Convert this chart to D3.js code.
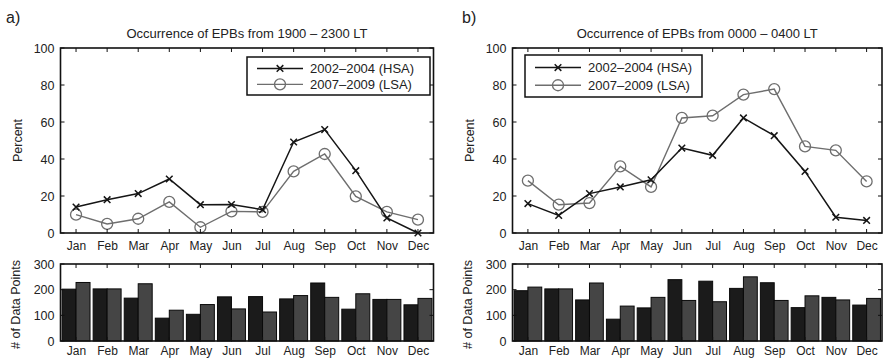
<!DOCTYPE html>
<html><head><meta charset="utf-8">
<script src="https://cdn.jsdelivr.net/npm/d3@7"></script>
<style>
html,body{margin:0;padding:0;background:#fff;}
svg{display:block;font-family:"Liberation Sans",Arial,Helvetica,sans-serif;}
</style></head>
<body><svg id="chart" width="890" height="360"></svg>
<script>
const months = ["Jan","Feb","Mar","Apr","May","Jun","Jul","Aug","Sep","Oct","Nov","Dec"];
const seriesNames = ["2002\u20132004 (HSA)","2007\u20132009 (LSA)"];
const titles = ["Occurrence of EPBs from 1900 \u2013 2300 LT","Occurrence of EPBs from 0000 \u2013 0400 LT"];
const panelLabels = ["a)","b)"];
const percentTicks = [0,20,40,60,80,100];
const countTicks = [0,100,200,300];

// Panel a: 1900-2300 LT
const hsaEvening = [14,18,21.3,29.2,15.3,15.4,12.6,49.2,55.9,33.7,8.1,0];
const lsaEvening = [9.9,4.9,7.7,16.8,3.1,11.7,11.4,33.3,42.7,19.8,11.4,7.2];
const hsaEveningCounts = [202,203,167,89,104,172,173,164,226,124,162,141];
const lsaEveningCounts = [228,203,223,120,142,125,113,177,170,184,162,166];

// Panel b: 0000-0400 LT
const hsaMorning = [15.9,9.5,21.3,24.9,28.8,45.9,42,62.2,52.6,33.3,8.5,6.8];
const lsaMorning = [28.3,15.3,16.2,36,24.9,62.2,63.4,74.8,77.8,46.8,44.7,27.9];
const hsaMorningCounts = [196,203,160,85,129,239,233,205,227,130,170,140];
const lsaMorningCounts = [210,203,226,136,170,158,153,250,158,176,160,166];

const panels = [
  {label:panelLabels[0], title:titles[0], hsa:hsaEvening, lsa:lsaEvening, hc:hsaEveningCounts, lc:lsaEveningCounts,
   x0:60.5, x1:433.5, labelX:6, legend:{x:247,y:57,w:183,h:38}},
  {label:panelLabels[1], title:titles[1], hsa:hsaMorning, lsa:lsaMorning, hc:hsaMorningCounts, lc:lsaMorningCounts,
   x0:512.5, x1:882, labelX:462, legend:{x:525,y:55,w:177,h:42}}
];

const svg = d3.select("#chart");
const textCol = "#222";
const topY0 = 233, topY1 = 48, botY0 = 341, botY1 = 264;
const darkLine = "#151515", grayLine = "#6e6e6e";

function markerX(g, x, y){
  const s = 3.3;
  g.append("path").attr("d",`M${x-s},${y-s}L${x+s},${y+s}M${x-s},${y+s}L${x+s},${y-s}`)
    .attr("stroke",darkLine).attr("stroke-width",1.5).attr("fill","none");
}
function markerO(g, x, y){
  g.append("circle").attr("cx",x).attr("cy",y).attr("r",5.5)
    .attr("fill","none").attr("stroke",grayLine).attr("stroke-width",1.3);
}

function drawBox(g, x, yTop, yBot, yScale, ticks){
  const x0 = x.range()[0], x1 = x.range()[1];
  const tk = 4;
  months.forEach((m,i)=>{
    const px = x(i+1);
    g.append("line").attr("x1",px).attr("x2",px).attr("y1",yBot).attr("y2",yBot-tk).attr("stroke","#111").attr("stroke-width",1);
    g.append("line").attr("x1",px).attr("x2",px).attr("y1",yTop).attr("y2",yTop+tk).attr("stroke","#111").attr("stroke-width",1);
  });
  ticks.forEach(t=>{
    const py = yScale(t);
    g.append("line").attr("x1",x0).attr("x2",x0+tk).attr("y1",py).attr("y2",py).attr("stroke","#111").attr("stroke-width",1);
    g.append("line").attr("x1",x1).attr("x2",x1-tk).attr("y1",py).attr("y2",py).attr("stroke","#111").attr("stroke-width",1);
  });
  g.append("g").attr("transform",`translate(${x0},0)`)
    .call(d3.axisLeft(yScale).tickValues(ticks).tickSize(0).tickPadding(6))
    .call(a=>{a.select(".domain").remove(); a.selectAll("text").attr("font-size",12.5).attr("fill",textCol).attr("font-family","Liberation Sans, Arial, sans-serif");});
  g.append("rect").attr("x",x0).attr("y",yTop).attr("width",x1-x0).attr("height",yBot-yTop)
    .attr("fill","none").attr("stroke","#111").attr("stroke-width",1.6);
}

panels.forEach(p=>{
  const g = svg.append("g");
  const x = d3.scaleLinear().domain([0.5,12.5]).range([p.x0,p.x1]);
  const y = d3.scaleLinear().domain([0,100]).range([topY0,topY1]);
  const yc = d3.scaleLinear().domain([0,300]).range([botY0,botY1]);

  g.append("text").attr("x",p.labelX).attr("y",23).attr("font-size",16).attr("fill",textCol).text(p.label);
  g.append("text").attr("x",(p.x0+p.x1)/2).attr("y",38).attr("text-anchor","middle").attr("font-size",13).attr("fill",textCol).text(p.title);

  const line = d3.line().x((d,i)=>x(i+1)).y(d=>y(d));
  g.append("path").datum(p.lsa).attr("d",line).attr("fill","none").attr("stroke",grayLine).attr("stroke-width",1.4);
  p.lsa.forEach((v,i)=>markerO(g,x(i+1),y(v)));
  g.append("path").datum(p.hsa).attr("d",line).attr("fill","none").attr("stroke",darkLine).attr("stroke-width",1.5);
  p.hsa.forEach((v,i)=>markerX(g,x(i+1),y(v)));

  drawBox(g, x, topY1, topY0, y, percentTicks);

  g.append("g").attr("transform",`translate(0,${topY0})`)
    .call(d3.axisBottom(x).tickValues(d3.range(1,13)).tickFormat(d=>months[d-1]).tickSize(0).tickPadding(8))
    .call(a=>{a.select(".domain").remove(); a.selectAll("text").attr("font-size",12).attr("fill",textCol).attr("font-family","Liberation Sans, Arial, sans-serif");});

  g.append("text").attr("transform",`translate(${p.x0-39},${(topY0+topY1)/2}) rotate(-90)`)
    .attr("text-anchor","middle").attr("font-size",12.5).attr("fill",textCol).text("Percent");

  const L = p.legend;
  const lg = g.append("g");
  lg.append("rect").attr("x",L.x).attr("y",L.y).attr("width",L.w).attr("height",L.h).attr("fill","#fff").attr("stroke","#111").attr("stroke-width",1.5);
  const r1 = L.y + L.h*0.3, r2 = L.y + L.h*0.72;
  const lx0 = L.x+10, lx1 = L.x+56, lm = (lx0+lx1)/2;
  lg.append("line").attr("x1",lx0).attr("x2",lx1).attr("y1",r1).attr("y2",r1).attr("stroke",darkLine).attr("stroke-width",1.5);
  markerX(lg,lm,r1);
  lg.append("line").attr("x1",lx0).attr("x2",lx1).attr("y1",r2).attr("y2",r2).attr("stroke",grayLine).attr("stroke-width",1.4);
  markerO(lg,lm,r2);
  lg.append("text").attr("x",lx1+7).attr("y",r1+4.5).attr("font-size",13).attr("fill",textCol).text(seriesNames[0]);
  lg.append("text").attr("x",lx1+7).attr("y",r2+4.5).attr("font-size",13).attr("fill",textCol).text(seriesNames[1]);

  const band = d3.scaleBand().domain(months).range([p.x0,p.x1]).paddingInner(0.1).paddingOuter(0.05);
  const sub = d3.scaleBand().domain(["h","l"]).range([0,band.bandwidth()]);
  months.forEach((m,i)=>{
    g.append("rect").attr("x",band(m)+sub("h")).attr("y",yc(p.hc[i])).attr("width",sub.bandwidth()).attr("height",botY0-yc(p.hc[i]))
      .attr("fill","#1b1b1b").attr("stroke","#0a0a0a").attr("stroke-width",1);
    g.append("rect").attr("x",band(m)+sub("l")).attr("y",yc(p.lc[i])).attr("width",sub.bandwidth()).attr("height",botY0-yc(p.lc[i]))
      .attr("fill","#454545").attr("stroke","#0a0a0a").attr("stroke-width",1);
  });
  drawBox(g, x, botY1, botY0, yc, countTicks);
  g.append("g").attr("transform",`translate(0,${botY0})`)
    .call(d3.axisBottom(x).tickValues(d3.range(1,13)).tickFormat(d=>months[d-1]).tickSize(0).tickPadding(5))
    .call(a=>{a.select(".domain").remove(); a.selectAll("text").attr("font-size",12).attr("fill",textCol).attr("font-family","Liberation Sans, Arial, sans-serif");});
  g.append("text").attr("transform",`translate(${p.x0-41},${(botY0+botY1)/2+2}) rotate(-90)`)
    .attr("text-anchor","middle").attr("font-size",12.5).attr("fill",textCol).text("# of Data Points");
});
</script></body></html>
